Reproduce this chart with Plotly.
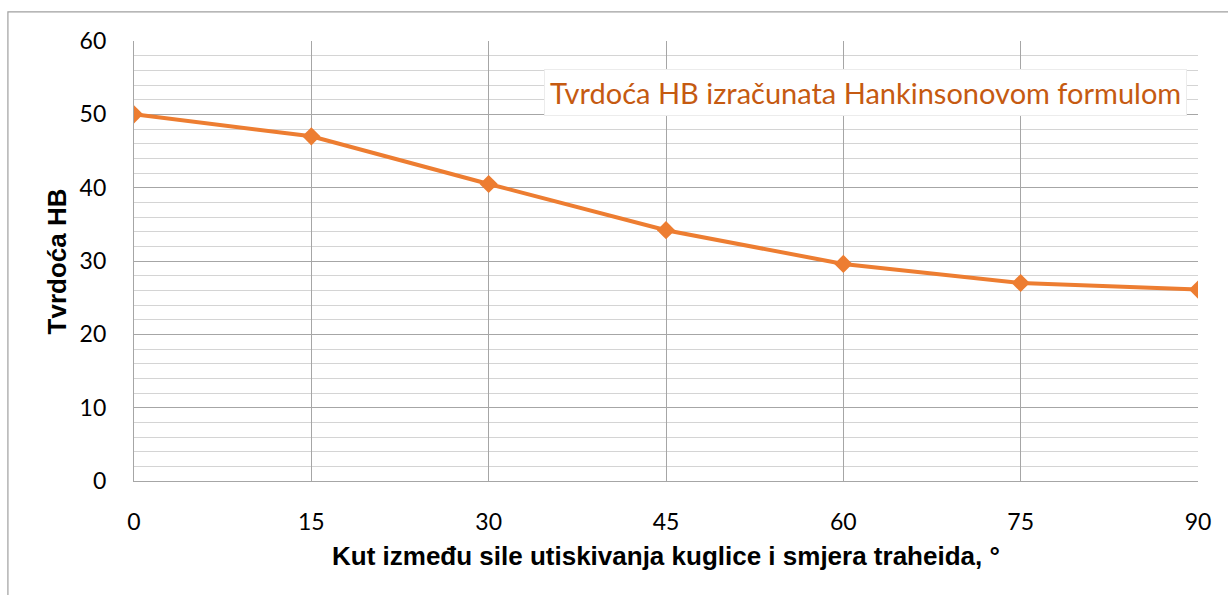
import plotly.graph_objects as go

# Kut (°) i izračunata tvrdoća HB
kut = [0, 15, 30, 45, 60, 75, 90]
tvrdoca = [50.0, 47.0, 40.5, 34.2, 29.6, 27.0, 26.1]
x_ticks = [0, 15, 30, 45, 60, 75, 90]
y_ticks = [0, 10, 20, 30, 40, 50, 60]

naziv_serije = "Tvrdoća HB izračunata Hankinsonovom formulom"
naslov_x = "Kut između sile utiskivanja kuglice i smjera traheida, °"
naslov_y = "Tvrdoća HB"

orange = "#ED7D31"
major_grid = "#a6a6a6"
minor_grid = "#d4d4d4"

fig = go.Figure()
fig.add_trace(go.Scatter(
    x=kut, y=tvrdoca, mode="lines+markers", name=naziv_serije,
    line=dict(color=orange, width=4),
    marker=dict(symbol="diamond", size=14, color=orange),
    showlegend=False,
))

fig.update_layout(
    width=1228, height=595,
    margin=dict(l=134, r=30, t=41, b=114),
    paper_bgcolor="white", plot_bgcolor="white",
    font=dict(family="Lato, sans-serif", size=23, color="black"),
    xaxis=dict(
        range=[0, 90], tickvals=x_ticks, ticktext=[str(v) for v in x_ticks],
        showgrid=True, gridcolor=major_grid, gridwidth=1.3,
        showline=True, linecolor=major_grid, linewidth=1.3, mirror=False,
        zeroline=False, ticks="", ticklabelstandoff=20,
    ),
    yaxis=dict(
        range=[0, 60], tickvals=y_ticks, ticktext=[str(v) for v in y_ticks],
        showgrid=True, gridcolor=major_grid, gridwidth=1.3,
        minor=dict(dtick=2, showgrid=True, gridcolor=minor_grid, gridwidth=1.3),
        showline=True, linecolor=major_grid, linewidth=1.3,
        zeroline=False, ticks="", ticklabelstandoff=22,
    ),
    annotations=[
        dict(text=naslov_x, xref="paper", yref="paper", x=0.5, y=-0.1706,
             xanchor="center", yanchor="middle", showarrow=False,
             font=dict(family="Liberation Sans, Arial", size=26, color="black", weight="bold")),
        dict(text=naslov_y, xref="paper", yref="paper", x=-0.072, y=0.5,
             xanchor="center", yanchor="middle", textangle=-90, showarrow=False,
             font=dict(family="Liberation Sans, Arial", size=26, color="black", weight="bold")),
        dict(text=naziv_serije, xref="paper", yref="paper", x=0.9897, y=0.936,
             xanchor="right", yanchor="top", showarrow=False,
             bgcolor="white", bordercolor="#ececec", borderwidth=1, borderpad=5,
             font=dict(family="Lato, sans-serif", size=29, color="#C55A11")),
    ],
    shapes=[
        dict(type="rect", xref="paper", yref="paper",
             x0=-0.1185, x1=1.2, y0=-0.4, y1=1.066,
             line=dict(color="#a0a0a0", width=1.2), layer="below"),
    ],
)

fig.write_html("out.html")
